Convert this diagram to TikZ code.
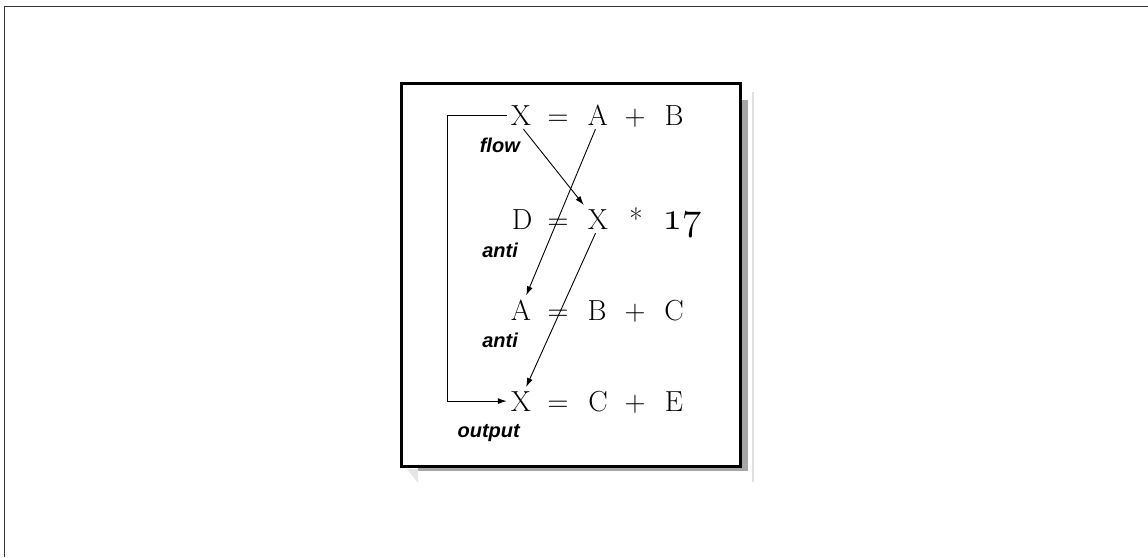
\documentclass[tikz,border=0pt]{standalone}
\usepackage{fontspec}
\newfontfamily\labelfont{Liberation Sans}
\usetikzlibrary{arrows.meta}

\tikzset{
  sym/.style={anchor=base, inner sep=4pt, font=\fontsize{29}{34}\selectfont},
  dep/.style={-{Latex[length=9pt,width=6pt]}, line width=0.9pt},
  kind/.style={anchor=base east, inner sep=0pt,
    font=\labelfont\bfseries\itshape\fontsize{20}{24}\selectfont},
}

\begin{document}
\begin{tikzpicture}[x=1pt, y=-1pt]
\useasboundingbox (0,0) rectangle (1148,557);
% page frame (cut off at right and bottom)
\draw[black!80, line width=1.8pt] (4.5,557) -- (4.5,6.5) -- (1148,6.5);
% shadow of the box
\fill[black!35] (741,100) rectangle (748,471);
\fill[black!35] (418,467) rectangle (748,471);
\draw[black!12, line width=2pt] (753,92) -- (753,482);
\fill[black!10] (407,469) -- (418,469) -- (418,483) -- cycle;
% box
\draw[line width=3pt, fill=white] (401.5,83.5) rectangle (740.5,466.5);

% row 1 : X = A + B
\node[sym] (x1) at (521,125) {X};
\node[sym] (eq1) at (558,125) {=};
\node[sym] (a1) at (598,125) {A};
\node[sym] (pl1) at (635,125) {+};
\node[sym] (b1) at (674,125) {B};
% row 2 : D = X * 17
\node[sym] (d2) at (522,229) {D};
\node[sym] (eq2) at (558,229) {=};
\node[sym] (x2) at (598,229) {X};
\node[sym] (st2) at (636,229) {*};
\node[sym, font=\fontsize{24.88}{30}\selectfont\usefont{OML}{cmm}{m}{it}] (n2) at (682,229) {\scalebox{1.6}{17}};
% row 3 : A = B + C
\node[sym] (a3) at (521,320) {A};
\node[sym] (eq3) at (558,320) {=};
\node[sym] (b3) at (597,320) {B};
\node[sym] (pl3) at (635,320) {+};
\node[sym] (c3) at (674,320) {C};
% row 4 : X = C + E
\node[sym] (x4) at (521,411) {X};
\node[sym] (eq4) at (558,411) {=};
\node[sym] (c4) at (598,411) {C};
\node[sym] (pl4) at (635,411) {+};
\node[sym] (e4) at (674,411) {E};

% dependence kinds
\node[kind] (lflow) at (520,152) {flow};
\node[kind] (lanti1) at (518,257) {anti};
\node[kind] (lanti2) at (518,347) {anti};
\node[kind] (lout) at (520,437) {output};

% dependences
\draw[dep] (x1.-80) -- (x2.north west);
\draw[dep] (a1.-100) -- (a3.70);
\draw[dep] (x2.-100) -- (x4.70);
\draw[dep] (x1.west) -- ++(-59,0) |- (x4.west);
\end{tikzpicture}
\end{document}
